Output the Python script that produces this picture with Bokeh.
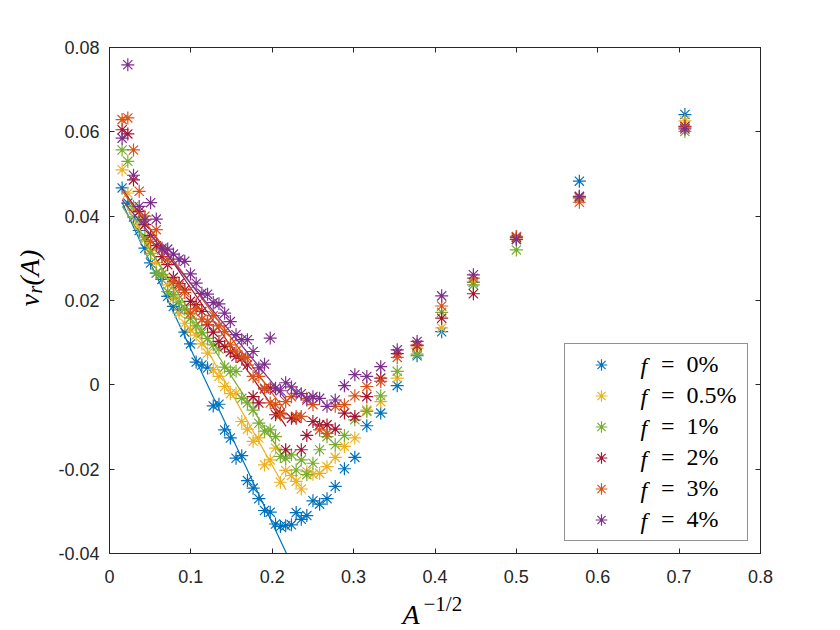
import math
from bokeh.plotting import figure
from bokeh.models import Range1d, FixedTicker, LinearAxis, Legend, LegendItem, Label
from bokeh.embed import file_html
from bokeh.resources import INLINE

# ---------------- data ----------------
X = [0.0155, 0.0225, 0.0295, 0.0365, 0.0435, 0.0505, 0.0575, 0.0645, 0.0715, 0.0785,
     0.0855, 0.0925, 0.0995, 0.1065, 0.1135, 0.1205, 0.1275, 0.1345, 0.1415, 0.1485,
     0.1555, 0.1625, 0.1695, 0.1765, 0.1835, 0.1905, 0.1975, 0.2040, 0.2100, 0.2165,
     0.2236, 0.2294, 0.2357, 0.2425, 0.2500, 0.2582, 0.2673, 0.2774, 0.2887, 0.3015,
     0.3162, 0.3333, 0.3536, 0.3780, 0.4082, 0.4472, 0.5000, 0.5774, 0.7071]

Y_F0 = [0.0467, 0.0431, 0.0398, 0.0366, 0.0324, 0.0289, 0.0265, 0.0250, 0.0210, 0.0186,
        0.0178, 0.0125, 0.0097, 0.0054, 0.0047, 0.0040, -0.0050, -0.0046, -0.0107, -0.0126,
        -0.0174, -0.0168, -0.0227, -0.0245, -0.0270, -0.0298, -0.0302, -0.0330, -0.0336, -0.0334,
        -0.0332, -0.0303, -0.0319, -0.0310, -0.0275, -0.0283, -0.0270, -0.0241, -0.0199, -0.0172,
        -0.0097, -0.0067, -0.0002, 0.0069, 0.0126, 0.0243, 0.0345, 0.0483, 0.0641]

Y_F05 = [0.0510, 0.0455, 0.0415, 0.0380, 0.0345, 0.0318, 0.0290, 0.0262, 0.0237, 0.0205,
         0.0170, 0.0146, 0.0130, 0.0118, 0.0097, 0.0075, 0.0036, 0.0020, -0.0004, -0.0021,
         -0.0020, -0.0087, -0.0105, -0.0134, -0.0126, -0.0190, -0.0178, -0.0150, -0.0231, -0.0203,
         -0.0215, -0.0229, -0.0247, -0.0206, -0.0212, -0.0210, -0.0194, -0.0172, -0.0146, -0.0126,
         -0.0060, -0.0040, 0.0016, 0.0087, 0.0135, 0.0244, 0.0349, 0.0441, 0.0626]

Y_F1 = [0.0557, 0.0530, 0.0423, 0.0392, 0.0350, 0.0312, 0.0265, 0.0261, 0.0221, 0.0214,
        0.0196, 0.0180, 0.0158, 0.0140, 0.0123, 0.0110, 0.0095, 0.0085, 0.0042, 0.0032,
        0.0032, -0.0032, -0.0043, -0.0060, -0.0091, -0.0110, -0.0107, -0.0123, -0.0170, -0.0174,
        -0.0166, -0.0202, -0.0178, -0.0213, -0.0186, -0.0154, -0.0123, -0.0142, -0.0120, -0.0083,
        -0.0063, -0.0026, 0.0032, 0.0073, 0.0172, 0.0237, 0.0320, 0.0444, 0.0601]

Y_F2 = [0.0605, 0.0595, 0.0486, 0.0411, 0.0380, 0.0354, 0.0330, 0.0304, 0.0285, 0.0255,
        0.0240, 0.0225, 0.0198, 0.0190, 0.0174, 0.0142, 0.0125, 0.0103, 0.0091, 0.0078,
        0.0067, 0.0063, 0.0047, -0.0028, -0.0043, -0.0008, -0.0008, -0.0071, -0.0067, -0.0154,
        -0.0079, -0.0079, -0.0154, -0.0120, -0.0087, -0.0095, -0.0095, -0.0105, -0.0067, -0.0075,
        -0.0028, 0.0016, 0.0074, 0.0093, 0.0158, 0.0216, 0.0350, 0.0446, 0.0613]

Y_F3 = [0.0629, 0.0633, 0.0557, 0.0459, 0.0400, 0.0340, 0.0368, 0.0320, 0.0297, 0.0245,
        0.0235, 0.0219, 0.0170, 0.0180, 0.0156, 0.0150, 0.0164, 0.0140, 0.0126, 0.0095,
        0.0080, 0.0066, 0.0065, 0.0020, 0.0020, -0.0010, -0.0043, -0.0047, -0.0071, -0.0040,
        -0.0028, -0.0075, -0.0075, -0.0032, -0.0047, -0.0107, -0.0115, -0.0051, -0.0047, -0.0026,
        -0.0004, 0.0008, 0.0065, 0.0095, 0.0187, 0.0253, 0.0352, 0.0433, 0.0611]

Y_F4 = [0.0585, 0.0759, 0.0497, 0.0423, 0.0391, 0.0432, 0.0393, 0.0324, 0.0322, 0.0310,
        0.0298, 0.0293, 0.0263, 0.0241, 0.0217, 0.0215, 0.0195, 0.0192, 0.0170, 0.0150,
        0.0119, 0.0107, 0.0107, 0.0079, 0.0040, 0.0049, 0.0111, -0.0008, -0.0014, 0.0005,
        -0.0005, -0.0020, -0.0021, -0.0036, -0.0028, -0.0032, -0.0051, -0.0036, -0.0002, 0.0024,
        0.0020, 0.0043, 0.0083, 0.0103, 0.0211, 0.0261, 0.0345, 0.0447, 0.0607]

SERIES_Y = [Y_F0, Y_F05, Y_F1, Y_F2, Y_F3, Y_F4]
F_VALUES = ["0%", "0.5%", "1%", "2%", "3%", "4%"]
COLORS = ["#0072BD", "#EDB120", "#77AC30", "#A2142F", "#D95319", "#7E2F8E"]

# linear fits of the descending branch: y = a + b x on [x_start, x_end]
FIT_A = [0.0496, 0.0495, 0.0470, 0.0509, 0.0500, 0.0475]
FIT_B = [-0.412, -0.343, -0.300, -0.280, -0.260, -0.235]
FIT_X_START = [0.0155, 0.0155, 0.0155, 0.0155, 0.0155, 0.0155]
FIT_X_END = [0.2175, 0.2170, 0.2170, 0.2170, 0.2150, 0.2170]

X_TICKS = [0.0, 0.1, 0.2, 0.3, 0.4, 0.5, 0.6, 0.7, 0.8]
X_TICK_LABELS = ["0", "0.1", "0.2", "0.3", "0.4", "0.5", "0.6", "0.7", "0.8"]
Y_TICKS = [-0.04, -0.02, 0.0, 0.02, 0.04, 0.06, 0.08]
Y_TICK_LABELS = ["-0.04", "-0.02", "0", "0.02", "0.04", "0.06", "0.08"]

AX = "#262626"
TICK_FONT = "Liberation Sans"
MATH_FONT = "Liberation Serif"

# ---------------- figure ----------------
W, H = 836, 630
BL, BR, BT, BB = 109, 76, 47, 77
p = figure(width=W, height=H, output_backend="svg", toolbar_location=None,
           x_range=Range1d(0, 0.8), y_range=Range1d(-0.04, 0.08),
           min_border_left=BL, min_border_right=BR, min_border_top=BT, min_border_bottom=BB)
p.background_fill_color = "white"
p.border_fill_color = "white"
p.outline_line_color = AX
p.outline_line_width = 1
p.xgrid.visible = False
p.ygrid.visible = False


def style_axis(ax, ticks, labels, show_labels=True):
    ax.ticker = FixedTicker(ticks=ticks)
    if show_labels:
        ax.major_label_overrides = {t: l for t, l in zip(ticks, labels)}
        ax.major_label_standoff = 10
    else:
        ax.major_label_overrides = {t: "" for t in ticks}
        ax.major_label_standoff = 0
    ax.axis_line_color = AX
    ax.major_tick_line_color = AX
    ax.major_tick_in = 5
    ax.major_tick_out = 0
    ax.minor_tick_line_color = None
    ax.major_label_text_color = AX
    ax.major_label_text_font = TICK_FONT
    ax.major_label_text_font_size = "18px"


style_axis(p.xaxis[0], X_TICKS, X_TICK_LABELS)
style_axis(p.yaxis[0], Y_TICKS, Y_TICK_LABELS)
p.xaxis[0].major_label_standoff = 16

top_ax = LinearAxis()
style_axis(top_ax, X_TICKS, X_TICK_LABELS, show_labels=False)
p.add_layout(top_ax, "above")
right_ax = LinearAxis()
style_axis(right_ax, Y_TICKS, Y_TICK_LABELS, show_labels=False)
p.add_layout(right_ax, "right")

items = []
for i, ys in enumerate(SERIES_Y):
    r = p.scatter(X, ys, marker="asterisk", size=13, line_color=COLORS[i], line_width=1.2)
    xs_fit = [FIT_X_START[i], FIT_X_END[i]]
    ys_fit = [FIT_A[i] + FIT_B[i] * xv for xv in xs_fit]
    p.line(xs_fit, ys_fit, line_color=COLORS[i], line_width=1.2)
    # the italic "f" is drawn separately over the reserved space at the label start
    items.append(LegendItem(label="\u2002\u2002=\u2002" + F_VALUES[i], renderers=[r]))

LEG_MARGIN, LEG_PAD, LEG_SPACING, LEG_ITEM_H = 12, 6, 2, 29
LEG_GLYPH_W, LEG_STANDOFF, LEG_LABEL_W = 60, 6, 104
legend = Legend(items=items, location="bottom_right", margin=LEG_MARGIN, padding=LEG_PAD,
                spacing=LEG_SPACING, label_height=LEG_ITEM_H, glyph_height=LEG_ITEM_H,
                glyph_width=LEG_GLYPH_W, label_standoff=LEG_STANDOFF, label_width=LEG_LABEL_W,
                border_line_color=AX, border_line_width=1,
                background_fill_color="white", background_fill_alpha=0.0,
                label_text_font=MATH_FONT, label_text_font_size="24px",
                label_text_color="black")
p.add_layout(legend)

# italic "f" of each legend entry, placed from the legend's own layout numbers
frame_right = W - BR
frame_bottom = H - BB
n_items = len(items)
leg_w = 2 * LEG_PAD + LEG_GLYPH_W + LEG_STANDOFF + LEG_LABEL_W
leg_h = 2 * LEG_PAD + n_items * LEG_ITEM_H + (n_items - 1) * LEG_SPACING
leg_left = frame_right - LEG_MARGIN - leg_w
leg_top = frame_bottom - LEG_MARGIN - leg_h
for i in range(n_items):
    cy = leg_top + LEG_PAD + LEG_ITEM_H / 2 + i * (LEG_ITEM_H + LEG_SPACING)
    p.add_layout(Label(x=leg_left + LEG_PAD + LEG_GLYPH_W + LEG_STANDOFF + 2, y=cy,
                       x_units="canvas", y_units="canvas", text="f", level="overlay",
                       text_font=MATH_FONT, text_font_style="italic", text_font_size="24px",
                       text_align="left", text_baseline="middle", text_color="black"))

# ---------------- axis labels (math-like, composed from pieces) ----------------
# Labels live in side panels (so they are not clipped to the frame); each piece goes
# to a panel that has spare room, and is positioned in canvas pixels.
def canvas_label(x, y, text, size, italic=False, angle=0.0):
    return Label(x=x, y=y, x_units="canvas", y_units="canvas", text=text, angle=angle,
                 text_font=MATH_FONT, text_font_style="italic" if italic else "normal",
                 text_font_size=size, text_align="left", text_baseline="alphabetic",
                 text_color="black")

# x label: A^{-1/2}
p.add_layout(canvas_label(402, 614, "A", "28px", italic=True), "right")
p.add_layout(canvas_label(423, 603, "\u22121/2", "21px"), "right")

# y label: v_r(A), rotated
ang = math.pi / 2
p.add_layout(canvas_label(29, 306, "v", "28px", italic=True, angle=ang), "above")
p.add_layout(canvas_label(34, 293, "r", "20px", italic=True, angle=ang), "above")
p.add_layout(canvas_label(29, 285, "(A)", "28px", italic=True, angle=ang), "left")

open("out.html", "w").write(file_html(p, INLINE))
